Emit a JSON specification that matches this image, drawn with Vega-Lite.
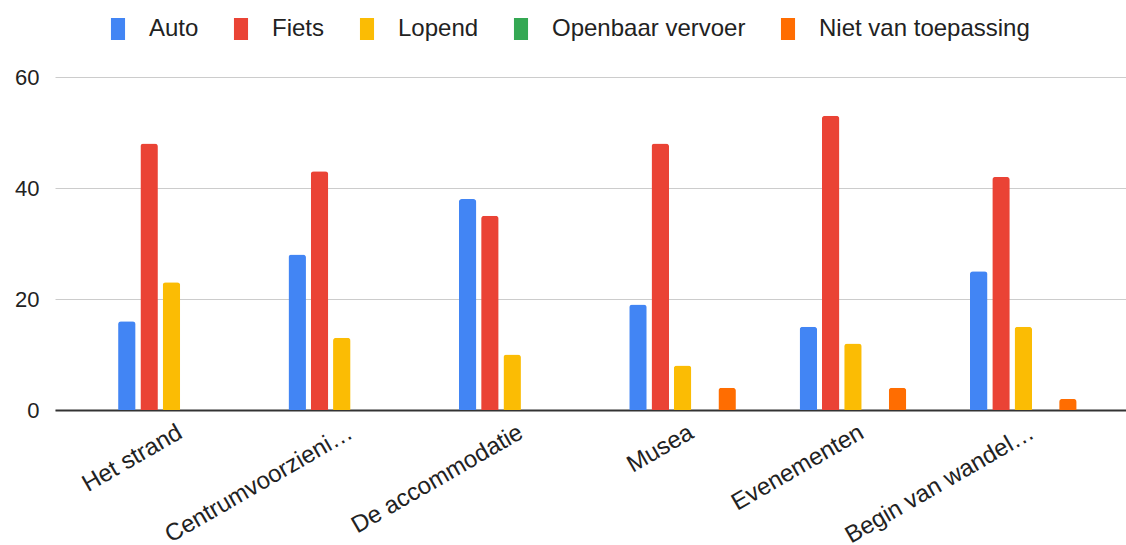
{
  "$schema": "https://vega.github.io/schema/vega-lite/v6.json",
  "width": 1071,
  "height": 333,
  "autosize": {"type": "none"},
  "padding": {"left": 55, "top": 77, "right": 0, "bottom": 135},
  "background": "white",
  "data": {
    "values": [
      {"cat": "Het strand", "mode": "Auto", "v": 16},
      {"cat": "Het strand", "mode": "Fiets", "v": 48},
      {"cat": "Het strand", "mode": "Lopend", "v": 23},
      {"cat": "Het strand", "mode": "Openbaar vervoer", "v": 0},
      {"cat": "Het strand", "mode": "Niet van toepassing", "v": 0},
      {"cat": "Centrumvoorzieni…", "mode": "Auto", "v": 28},
      {"cat": "Centrumvoorzieni…", "mode": "Fiets", "v": 43},
      {"cat": "Centrumvoorzieni…", "mode": "Lopend", "v": 13},
      {"cat": "Centrumvoorzieni…", "mode": "Openbaar vervoer", "v": 0},
      {"cat": "Centrumvoorzieni…", "mode": "Niet van toepassing", "v": 0},
      {"cat": "De accommodatie", "mode": "Auto", "v": 38},
      {"cat": "De accommodatie", "mode": "Fiets", "v": 35},
      {"cat": "De accommodatie", "mode": "Lopend", "v": 10},
      {"cat": "De accommodatie", "mode": "Openbaar vervoer", "v": 0},
      {"cat": "De accommodatie", "mode": "Niet van toepassing", "v": 0},
      {"cat": "Musea", "mode": "Auto", "v": 19},
      {"cat": "Musea", "mode": "Fiets", "v": 48},
      {"cat": "Musea", "mode": "Lopend", "v": 8},
      {"cat": "Musea", "mode": "Openbaar vervoer", "v": 0},
      {"cat": "Musea", "mode": "Niet van toepassing", "v": 4},
      {"cat": "Evenementen", "mode": "Auto", "v": 15},
      {"cat": "Evenementen", "mode": "Fiets", "v": 53},
      {"cat": "Evenementen", "mode": "Lopend", "v": 12},
      {"cat": "Evenementen", "mode": "Openbaar vervoer", "v": 0},
      {"cat": "Evenementen", "mode": "Niet van toepassing", "v": 4},
      {"cat": "Begin van wandel…", "mode": "Auto", "v": 25},
      {"cat": "Begin van wandel…", "mode": "Fiets", "v": 42},
      {"cat": "Begin van wandel…", "mode": "Lopend", "v": 15},
      {"cat": "Begin van wandel…", "mode": "Openbaar vervoer", "v": 0},
      {"cat": "Begin van wandel…", "mode": "Niet van toepassing", "v": 2}
    ]
  },
  "mark": {"type": "bar", "cornerRadiusEnd": 3},
  "encoding": {
    "x": {
      "field": "cat",
      "type": "nominal",
      "sort": null,
      "title": null,
      "scale": {"paddingInner": 0.374, "paddingOuter": 0.33, "align": 0.561},
      "axis": {
        "labelAngle": -30,
        "labelAlign": "right",
        "labelBaseline": "top",
        "labelPadding": 10,
        "labelOffset": 3,
        "labelFontSize": 24,
        "labelFont": "Liberation Sans",
        "labelColor": "#222222",
        "labelLimit": 400,
        "ticks": false,
        "domainColor": "#333333",
        "domainWidth": 2,
        "grid": false
      }
    },
    "xOffset": {
      "field": "mode",
      "type": "nominal",
      "sort": ["Auto", "Fiets", "Lopend", "Openbaar vervoer", "Niet van toepassing"],
      "scale": {"paddingInner": 0.215, "paddingOuter": 0}
    },
    "y": {
      "field": "v",
      "type": "quantitative",
      "title": null,
      "scale": {"domain": [0, 60], "nice": false},
      "axis": {
        "values": [0, 20, 40, 60],
        "domain": false,
        "ticks": false,
        "labelPadding": 16,
        "labelFontSize": 22,
        "labelFont": "Liberation Sans",
        "labelColor": "#222222",
        "gridColor": "#cccccc",
        "gridWidth": 1
      }
    },
    "color": {
      "field": "mode",
      "type": "nominal",
      "sort": ["Auto", "Fiets", "Lopend", "Openbaar vervoer", "Niet van toepassing"],
      "scale": {
        "domain": ["Auto", "Fiets", "Lopend", "Openbaar vervoer", "Niet van toepassing"],
        "range": ["#4285F4", "#EA4335", "#FBBC04", "#34A853", "#FF6D01"]
      },
      "legend": {
        "title": null,
        "orient": "none",
        "direction": "horizontal",
        "columns": 5,
        "legendX": 51,
        "legendY": -60,
        "symbolType": "M-0.64,-1H0.64V1H-0.64Z",
        "symbolSize": 484,
        "symbolStrokeWidth": 0,
        "symbolOpacity": 1,
        "labelOffset": 19,
        "columnPadding": 30,
        "labelFontSize": 24,
        "labelFont": "Liberation Sans",
        "labelColor": "#222222",
        "labelLimit": 400
      }
    }
  },
  "config": {"view": {"stroke": null}}
}
